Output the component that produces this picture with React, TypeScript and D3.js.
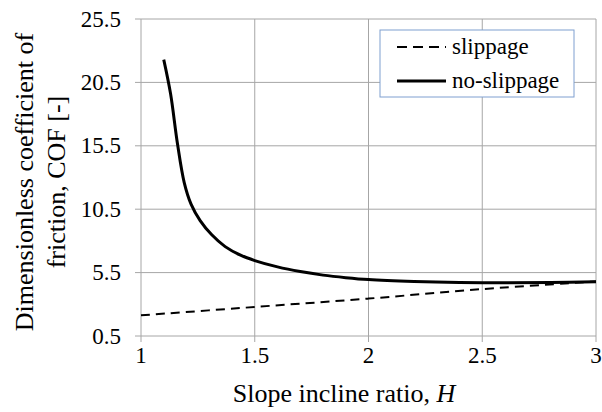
import React from "react";
import * as d3 from "d3";

const xTicks = [1, 1.5, 2, 2.5, 3];
const yTicks = [0.5, 5.5, 10.5, 15.5, 20.5, 25.5];

// no-slippage curve
const noSlipH = [1.1, 1.13, 1.16, 1.19, 1.22, 1.26, 1.31, 1.37, 1.44, 1.5, 1.6, 1.7, 1.8, 1.9, 2.0, 2.2, 2.4, 2.6, 2.8, 3.0];
const noSlipCOF = [22.3, 19.6, 15.7, 12.6, 10.9, 9.6, 8.5, 7.55, 6.85, 6.45, 5.95, 5.58, 5.3, 5.1, 4.95, 4.8, 4.72, 4.7, 4.72, 4.78];

// slippage line
const slipH = [1, 1.5, 2, 2.5, 3];
const slipCOF = [2.13, 2.79, 3.45, 4.2, 4.8];

const width = 602;
const height = 412;
const margin = { top: 19, right: 6, bottom: 76, left: 141 };
const font = "'Liberation Serif', 'Times New Roman', 'DejaVu Serif', serif";
const grid = "#a6a6a6";

export default function App() {
  const x = d3.scaleLinear().domain([1, 3]).range([margin.left, width - margin.right]);
  const y = d3.scaleLinear().domain([0.5, 25.5]).range([height - margin.bottom, margin.top]);

  const line = d3
    .line<[number, number]>()
    .x((d) => x(d[0]))
    .y((d) => y(d[1]))
    .curve(d3.curveCatmullRom.alpha(0.5));

  const noSlip = noSlipH.map((h, i) => [h, noSlipCOF[i]] as [number, number]);
  const slip = slipH.map((h, i) => [h, slipCOF[i]] as [number, number]);

  const bottom = y(0.5);

  return (
    <div style={{ position: "absolute", left: 0, top: 0, fontFamily: font }}>
      <svg width={width} height={height} style={{ display: "block", background: "#fff" }}>
        <g fontFamily={font} fontSize={23} fill="#000">
          {/* grid */}
          {yTicks.map((t) => (
            <line key={"gy" + t} x1={x(1) - 6} x2={x(3)} y1={y(t)} y2={y(t)} stroke={grid} strokeWidth={1} />
          ))}
          {xTicks.map((t) => (
            <line key={"gx" + t} x1={x(t)} x2={x(t)} y1={y(25.5)} y2={bottom + 6} stroke={grid} strokeWidth={1} />
          ))}

          {/* tick labels */}
          {yTicks.map((t) => (
            <text key={"ly" + t} x={x(1) - 20} y={y(t) + 7.5} textAnchor="end">
              {t}
            </text>
          ))}
          {xTicks.map((t) => (
            <text key={"lx" + t} x={x(t)} y={363} textAnchor="middle">
              {t}
            </text>
          ))}

          {/* series */}
          <path d={line(slip) ?? ""} fill="none" stroke="#000" strokeWidth={2} strokeDasharray="9,6" />
          <path d={line(noSlip) ?? ""} fill="none" stroke="#000" strokeWidth={3} strokeLinejoin="round" />

          {/* axis titles */}
          <text x={344} y={402} textAnchor="middle" fontSize={26}>
            Slope incline ratio, <tspan fontStyle="italic">H</tspan>
          </text>
          <g transform="translate(0, 182) rotate(-90)" fontSize={26}>
            <text x={0} y={33} textAnchor="middle">
              Dimensionless coefficient of
            </text>
            <text x={0} y={65} textAnchor="middle">
              friction, COF [-]
            </text>
          </g>

          {/* legend */}
          <rect x={380} y={30} width={194} height={67} fill="#fff" stroke="#7f9fd0" strokeWidth={1} />
          <line x1={397} x2={446} y1={47} y2={47} stroke="#000" strokeWidth={2} strokeDasharray="10,6" />
          <text x={452} y={54}>slippage</text>
          <line x1={397} x2={446} y1={81} y2={81} stroke="#000" strokeWidth={3} />
          <text x={452} y={88}>no-slippage</text>
        </g>
      </svg>
    </div>
  );
}
